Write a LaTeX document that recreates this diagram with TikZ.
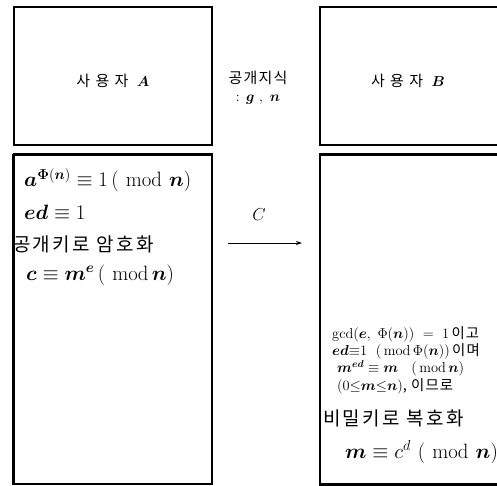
\documentclass[tikz,border=0pt]{standalone}
\usepackage{amsmath}
\usepackage{fontspec}
\newfontfamily\krw[LetterSpace=35]{Noto Sans CJK KR}
\newfontfamily\kr[LetterSpace=12]{Noto Sans CJK KR}
\newfontfamily\krs[LetterSpace=8]{Noto Sans CJK KR}
\usetikzlibrary{arrows.meta}
\newcommand{\bv}[1]{\boldsymbol{#1}}
\begin{document}
\begin{tikzpicture}[x=1pt,y=-1pt,
  topbox/.style={draw,line width=2.4pt,minimum width=198pt,minimum height=138pt,inner sep=0pt},
  lowbox/.style={draw,line width=1.2pt,minimum width=198pt,minimum height=329pt,inner sep=0pt},
  title/.style={font=\fontsize{15}{17}\selectfont\krw},
  bigline/.style={anchor=west,inner sep=0pt,font=\fontsize{20.74}{22}\selectfont\kr},
  krline/.style={anchor=west,inner sep=0pt,font=\fontsize{19}{21}\selectfont\kr},
  smallline/.style={anchor=west,inner sep=0pt,font=\fontsize{14.4}{16}\selectfont\krs},
  conn/.style={line width=0.9pt,-{Stealth[length=6pt,width=4pt]}}]
\useasboundingbox (0,0) rectangle (497,486);
\clip (0,0) rectangle (497,486);
\fill[white] (0,0) rectangle (497,486);
% boxes
\node[topbox] (boxA) at (113,76) {};
\node[lowbox] (lowA) at (113,319.5) {};
\draw[line width=2.6pt] (lowA.south west) -- (lowA.north west);
\draw[line width=2.2pt] (lowA.north west) -- (lowA.north east);
\node[topbox,minimum width=230pt] (boxB) at (435,76) {};
\node[lowbox,minimum width=230pt] (lowB) at (435,319.5) {};
\draw[line width=2.2pt] (lowB.north west) -- (lowB.north east);
\draw[line width=2.2pt] (lowB.south west) -- (lowB.south east);
% titles
\node[title] (tA) at (113,81) {사용자 $\bv{A}$};
\node[title] (tB) at (408,81) {사용자 $\bv{B}$};
\node[font=\fontsize{15}{17}\selectfont\krs] (pub) at (258,78) {공개지식};
\node[font=\fontsize{15}{17}\selectfont] (gn) at (258,100) {$:\,\bv{g}\ ,\ \bv{n}$};
% left box text
\node[bigline] (la) at (24,180) {$\bv{a}^{\bv{\Phi}(\bv{n})}\equiv 1\,(\ \mathrm{mod}\ \bv{n})$};
\node[bigline] (lb) at (24,212) {$\bv{ed}\equiv 1$};
\node[krline] (lc) at (13,244) {공개키로 암호화};
\node[bigline] (ld) at (26,275) {$\bv{c}\equiv \bv{m}^{\bv{e}}\,(\ \mathrm{mod}\, \bv{n})$};
% message
\node[font=\fontsize{18}{20}\selectfont] (msg) at (259,215) {$C$};
\coordinate (src) at (228,243);
\coordinate (dst) at (302,243);
\draw[conn] (src) -- (dst);
% right box text
\node[smallline] (ra) at (332,334) {$\mathrm{gcd}(\bv{e},\ \Phi(\bv{n}))\ =\ 1$\,이고};
\node[smallline] (rb) at (332,351) {$\bv{ed}{\equiv}1\ \ (\,\mathrm{mod}\,\Phi(\bv{n}))$\,이며};
\node[smallline] (rc) at (337,368) {$\bv{m}^{\bv{ed}}\equiv \bv{m}\ \ \ (\,\mathrm{mod}\,\bv{n})$};
\node[smallline] (rd) at (337,386) {$(0{\leq}\bv{m}{\leq}\bv{n})$, 이므로};
\node[krline] (re) at (323,418) {비밀키로 복호화};
\node[bigline] (rf) at (345,452) {$\bv{m}\equiv c^{d}\ (\ \mathrm{mod}\ \bv{n})$};
\end{tikzpicture}
\end{document}
